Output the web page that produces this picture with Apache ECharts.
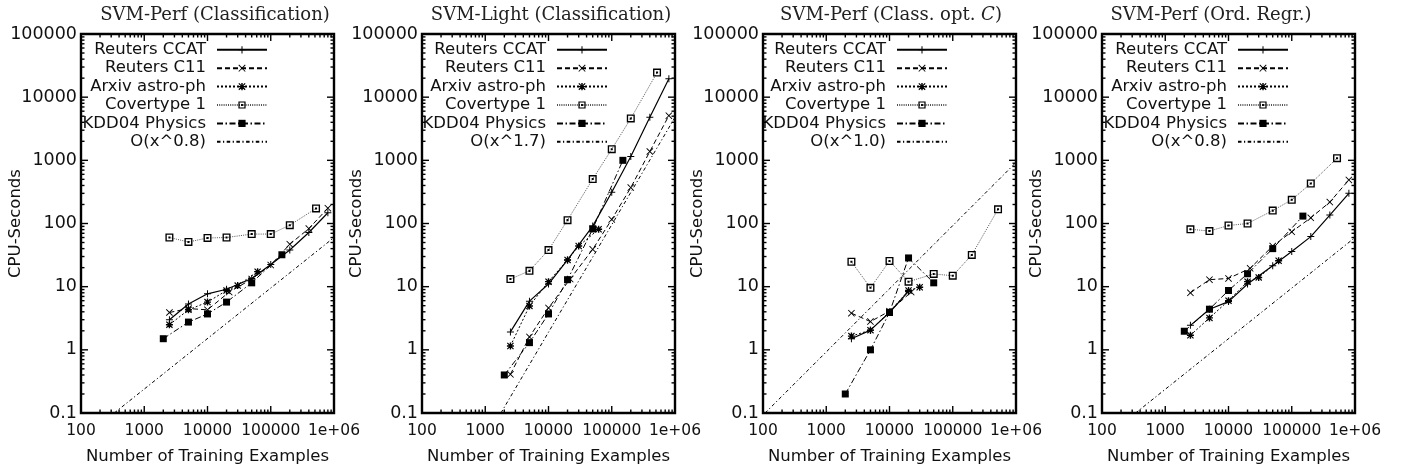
<!DOCTYPE html>
<html>
<head>
<meta charset="utf-8">
<script src="https://cdn.jsdelivr.net/npm/echarts@6/dist/echarts.min.js"></script>
<style>html,body{margin:0;padding:0;background:#fff;}#c{width:1406px;height:472px;}</style>
</head>
<body>
<div id="c"></div>
<script>
// ---------- tick labels ----------
const xTickLabels = ['100', '1000', '10000', '100000', '1e+06'];
const yTickLabels = ['0.1', '1', '10', '100', '1000', '10000', '100000'];
const xMajorTicks = [100, 1000, 10000, 100000, 1000000];
const yMajorTicks = [0.1, 1, 10, 100, 1000, 10000, 100000];
const minorMultipliers = [2, 3, 4, 5, 6, 7, 8, 9];

// ---------- names ----------
const seriesNames = ['Reuters CCAT', 'Reuters C11', 'Arxiv astro-ph', 'Covertype 1', 'KDD04 Physics'];
const panelTitles = ['SVM-Perf (Classification)', 'SVM-Light (Classification)', 'SVM-Perf (Class. opt. {i|C})', 'SVM-Perf (Ord. Regr.)'];
const refNames = ['O(x^0.8)', 'O(x^1.7)', 'O(x^1.0)', 'O(x^0.8)'];
const xAxisName = 'Number of Training Examples';
const yAxisName = 'CPU-Seconds';

// ---------- training set sizes ----------
const xCCAT = [2500, 5000, 10000, 20000, 50000, 100000, 200000, 400000, 800000];
const xC11 = [2500, 5000, 10000, 22000, 50000, 100000, 200000, 400000, 800000];
const xArxiv = [2500, 5000, 10000, 20000, 30000, 62000];
const xCover = [2500, 5000, 10000, 20000, 50000, 100000, 200000, 520000];
const xKDD = [2000, 5000, 10000, 20000, 50000, 150000];
const xCCAT3 = [2500, 5000, 10000, 20000];
const xC113 = [2500, 5000, 10000, 22000];
const xArxiv3 = [2500, 5000, 10000, 20000, 30000];
const xKDD3 = [2000, 5000, 10000, 20000, 50000];

// ---------- panel 1: SVM-Perf (Classification) ----------
const p1CCAT = [3.0, 5.3, 7.7, 9.1, 13.5, 22.5, 38, 72, 148];
const p1C11 = [3.9, 4.5, 4.3, 8.2, 13.2, 22, 47, 83, 175];
const p1Arxiv = [2.5, 4.3, 5.7, 8.7, 10.4, 17.3];
const p1Cover = [60, 51, 59, 60, 68, 68, 94, 173];
const p1KDD = [1.5, 2.75, 3.7, 5.7, 11.5, 32];
const p1RefX = [336, 1000000];
const p1RefY = [0.1, 60];

// ---------- panel 2: SVM-Light (Classification) ----------
const p2CCAT = [1.92, 5.9, 11, 26.5, 91, 312, 1150, 4800, 19600];
const p2C11 = [0.41, 1.6, 4.6, 13.2, 39, 116, 370, 1380, 5100];
const p2Arxiv = [1.15, 4.95, 12, 26.5, 44, 81];
const p2Cover = [13.2, 17.8, 38, 113, 505, 1500, 4600, 24500];
const p2KDD = [0.40, 1.3, 3.7, 12.9, 82, 1000];
const p2RefX = [1770, 1000000];
const p2RefY = [0.1, 4800];

// ---------- panel 3: SVM-Perf (Class. opt. C) ----------
const p3CCAT = [1.5, 2.05, 3.9, 8.4];
const p3C11 = [3.8, 2.8, 4.1, 8.2];
const p3Arxiv = [1.65, 2.05, 4.0, 8.7, 9.8];
const p3Cover = [24.8, 9.6, 25.5, 12, 15.9, 14.9, 31.8, 168];
const p3KDD = [0.2, 1.0, 3.9, 28.5, 11.5];
const p3RefX = [108, 1000000];
const p3RefY = [0.1, 926];

// ---------- panel 4: SVM-Perf (Ord. Regr.) ----------
const p4CCAT = [2.44, 4.4, 5.8, 11, 21.5, 36, 62, 136, 300];
const p4C11 = [8.0, 12.9, 13.5, 19.5, 44, 74, 123, 218, 490];
const p4Arxiv = [1.7, 3.2, 6.0, 12, 14, 25.7];
const p4Cover = [81, 76, 93, 100, 160, 237, 430, 1080];
const p4KDD = [1.97, 4.4, 8.7, 16, 40, 131];
const p4RefX = [340, 1000000];
const p4RefY = [0.1, 60];

const panels = [
  {x: [xCCAT, xC11, xArxiv, xCover, xKDD], y: [p1CCAT, p1C11, p1Arxiv, p1Cover, p1KDD], rx: p1RefX, ry: p1RefY},
  {x: [xCCAT, xC11, xArxiv, xCover, xKDD], y: [p2CCAT, p2C11, p2Arxiv, p2Cover, p2KDD], rx: p2RefX, ry: p2RefY},
  {x: [xCCAT3, xC113, xArxiv3, xCover, xKDD3], y: [p3CCAT, p3C11, p3Arxiv, p3Cover, p3KDD], rx: p3RefX, ry: p3RefY},
  {x: [xCCAT, xC11, xArxiv, xCover, xKDD], y: [p4CCAT, p4C11, p4Arxiv, p4Cover, p4KDD], rx: p4RefX, ry: p4RefY}
];

// ---------- layout & style ----------
const gridLefts = [81, 422, 763, 1102];
const gridTop = 34, gridW = 253, gridH = 379;
const titleCenters = [215, 551, 891, 1211];
const legendRights = [1138, 798, 458, 117];
const SANS = 'DejaVu Sans, Liberation Sans, sans-serif';
const SERIF = 'DejaVu Serif, serif';

const plusPath = 'path://M4.3,0H5.7V4.3H10V5.7H5.7V10H4.3V5.7H0V4.3H4.3Z';
const crossPath = 'path://M0,0.9L0.9,0L5,4.1L9.1,0L10,0.9L5.9,5L10,9.1L9.1,10L5,5.9L0.9,10L0,9.1L4.1,5Z';
const starPath = 'path://M4,0H6V4H10V6H6V10H4V6H0V4H4Z M0,1.2L1.2,0L5,3.8L8.8,0L10,1.2L6.2,5L10,8.8L8.8,10L5,6.2L1.2,10L0,8.8L3.8,5Z';
const boxPath = 'path://M0,0H10V10H0Z M1.7,1.7V8.3H8.3V1.7Z M3.7,3.7H6.3V6.3H3.7Z';

const seriesStyles = [
  {symbol: plusPath, size: 7, dash: 'solid', color: '#000', width: 1.2},
  {symbol: crossPath, size: 7, dash: [5, 3], color: '#000', width: 1},
  {symbol: starPath, size: 7, dash: [2, 2], color: '#000', width: 1},
  {symbol: boxPath, size: 8, dash: [1, 1.2], color: '#555', width: 1},
  {symbol: 'rect', size: 7, dash: [6, 2.5, 1.5, 2.5], color: '#000', width: 1}
];
const refStyle = {dash: [3.5, 2.5, 1.2, 2.5], color: '#000', width: 1};

function zip(xs, ys) { return xs.map((v, i) => [v, ys[i]]); }

const option = {
  animation: false,
  backgroundColor: '#fff',
  textStyle: {fontFamily: SANS},
  title: [], grid: [], xAxis: [], yAxis: [], legend: [], series: []
};

// tick data (major and minor), placed through the axes' own scales
const tickData = [];
xMajorTicks.forEach(v => tickData.push([v, 1, 0, 7]));
yMajorTicks.forEach(v => tickData.push([1000, v, 1, 7]));
xMajorTicks.slice(0, -1).forEach(d => minorMultipliers.forEach(m => tickData.push([d * m, 1, 0, 3.5])));
yMajorTicks.slice(0, -1).forEach(d => minorMultipliers.forEach(m => tickData.push([1000, d * m, 1, 3.5])));

const hiddenSymbol = {color: 'rgba(0,0,0,0)', borderColor: 'rgba(0,0,0,0)', opacity: 0};

panels.forEach((p, gi) => {
  option.title.push({
    text: panelTitles[gi], left: titleCenters[gi], top: 6, textAlign: 'center', padding: 0,
    textStyle: {fontFamily: SERIF, fontWeight: 'normal', fontSize: 18, color: '#222',
      rich: {i: {fontFamily: SERIF, fontStyle: 'italic', fontSize: 18, color: '#222'}}}
  });
  option.grid.push({left: gridLefts[gi], top: gridTop, width: gridW, height: gridH,
    show: true, borderColor: '#000', borderWidth: 2.4, backgroundColor: 'transparent'});
  option.xAxis.push({
    type: 'log', logBase: 10, min: 100, max: 1000000, splitNumber: 4, gridIndex: gi,
    axisLine: {show: false}, axisTick: {show: false}, splitLine: {show: false},
    axisLabel: {fontSize: 15.5, color: '#111', margin: 10, fontFamily: SANS, hideOverlap: false,
      formatter: (v, idx) => xTickLabels[idx]},
    name: xAxisName, nameLocation: 'middle', nameGap: 35, nameMoveOverlap: false,
    nameTextStyle: {fontSize: 16.5, color: '#111', fontFamily: SANS}
  });
  option.yAxis.push({
    type: 'log', logBase: 10, min: 0.1, max: 100000, splitNumber: 6, gridIndex: gi,
    axisLine: {show: false}, axisTick: {show: false}, splitLine: {show: false},
    axisLabel: {fontSize: 17.5, color: '#111', margin: 4, fontFamily: SANS, hideOverlap: false,
      formatter: (v, idx) => yTickLabels[idx]},
    name: yAxisName, nameLocation: 'middle', nameGap: 57, nameMoveOverlap: false,
    nameTextStyle: {fontSize: 16.5, color: '#111', fontFamily: SANS}
  });
  const legendData = seriesNames.map(n => ({name: n}));
  legendData.push({name: refNames[gi], itemStyle: hiddenSymbol});
  option.legend.push({
    orient: 'vertical', align: 'right', right: legendRights[gi], top: 41, padding: 0,
    itemWidth: 50, itemHeight: 9, itemGap: 0.8, selectedMode: false,
    textStyle: {fontSize: 16.5, lineHeight: 17.6, color: '#111', fontFamily: SANS, padding: [0, 6, 0, 0]},
    data: legendData
  });
  seriesNames.forEach((nm, si) => {
    const st = seriesStyles[si];
    option.series.push({
      type: 'line', name: nm, xAxisIndex: gi, yAxisIndex: gi,
      data: zip(p.x[si], p.y[si]),
      symbol: st.symbol, symbolSize: st.size, showSymbol: true,
      lineStyle: {color: st.color, width: st.width, type: st.dash},
      itemStyle: {color: '#000', borderWidth: 0},
      z: 3
    });
  });
  option.series.push({
    type: 'line', name: refNames[gi], xAxisIndex: gi, yAxisIndex: gi,
    data: zip(p.rx, p.ry), symbol: 'none',
    lineStyle: {color: refStyle.color, width: refStyle.width, type: refStyle.dash},
    itemStyle: {color: '#000'}, z: 2
  });
  option.series.push({
    type: 'custom', xAxisIndex: gi, yAxisIndex: gi, silent: true, clip: false, z: 6,
    dimensions: ['x', 'y', 'k', 'l'], encode: {x: 0, y: 1},
    data: tickData,
    renderItem: function (params, api) {
      const cs = params.coordSys;
      const k = api.value(2), len = api.value(3);
      const pt = api.coord([api.value(0), api.value(1)]);
      const st = {stroke: '#000', lineWidth: 1.4};
      if (k === 0) {
        const x = pt[0];
        return {type: 'group', children: [
          {type: 'line', shape: {x1: x, y1: cs.y + cs.height, x2: x, y2: cs.y + cs.height - len}, style: st},
          {type: 'line', shape: {x1: x, y1: cs.y, x2: x, y2: cs.y + len}, style: st}
        ]};
      }
      const y = pt[1];
      return {type: 'group', children: [
        {type: 'line', shape: {x1: cs.x, y1: y, x2: cs.x + len, y2: y}, style: st},
        {type: 'line', shape: {x1: cs.x + cs.width, y1: y, x2: cs.x + cs.width - len, y2: y}, style: st}
      ]};
    }
  });
});

const chart = echarts.init(document.getElementById('c'), null, {renderer: 'canvas'});
chart.setOption(option);
</script>
</body>
</html>
